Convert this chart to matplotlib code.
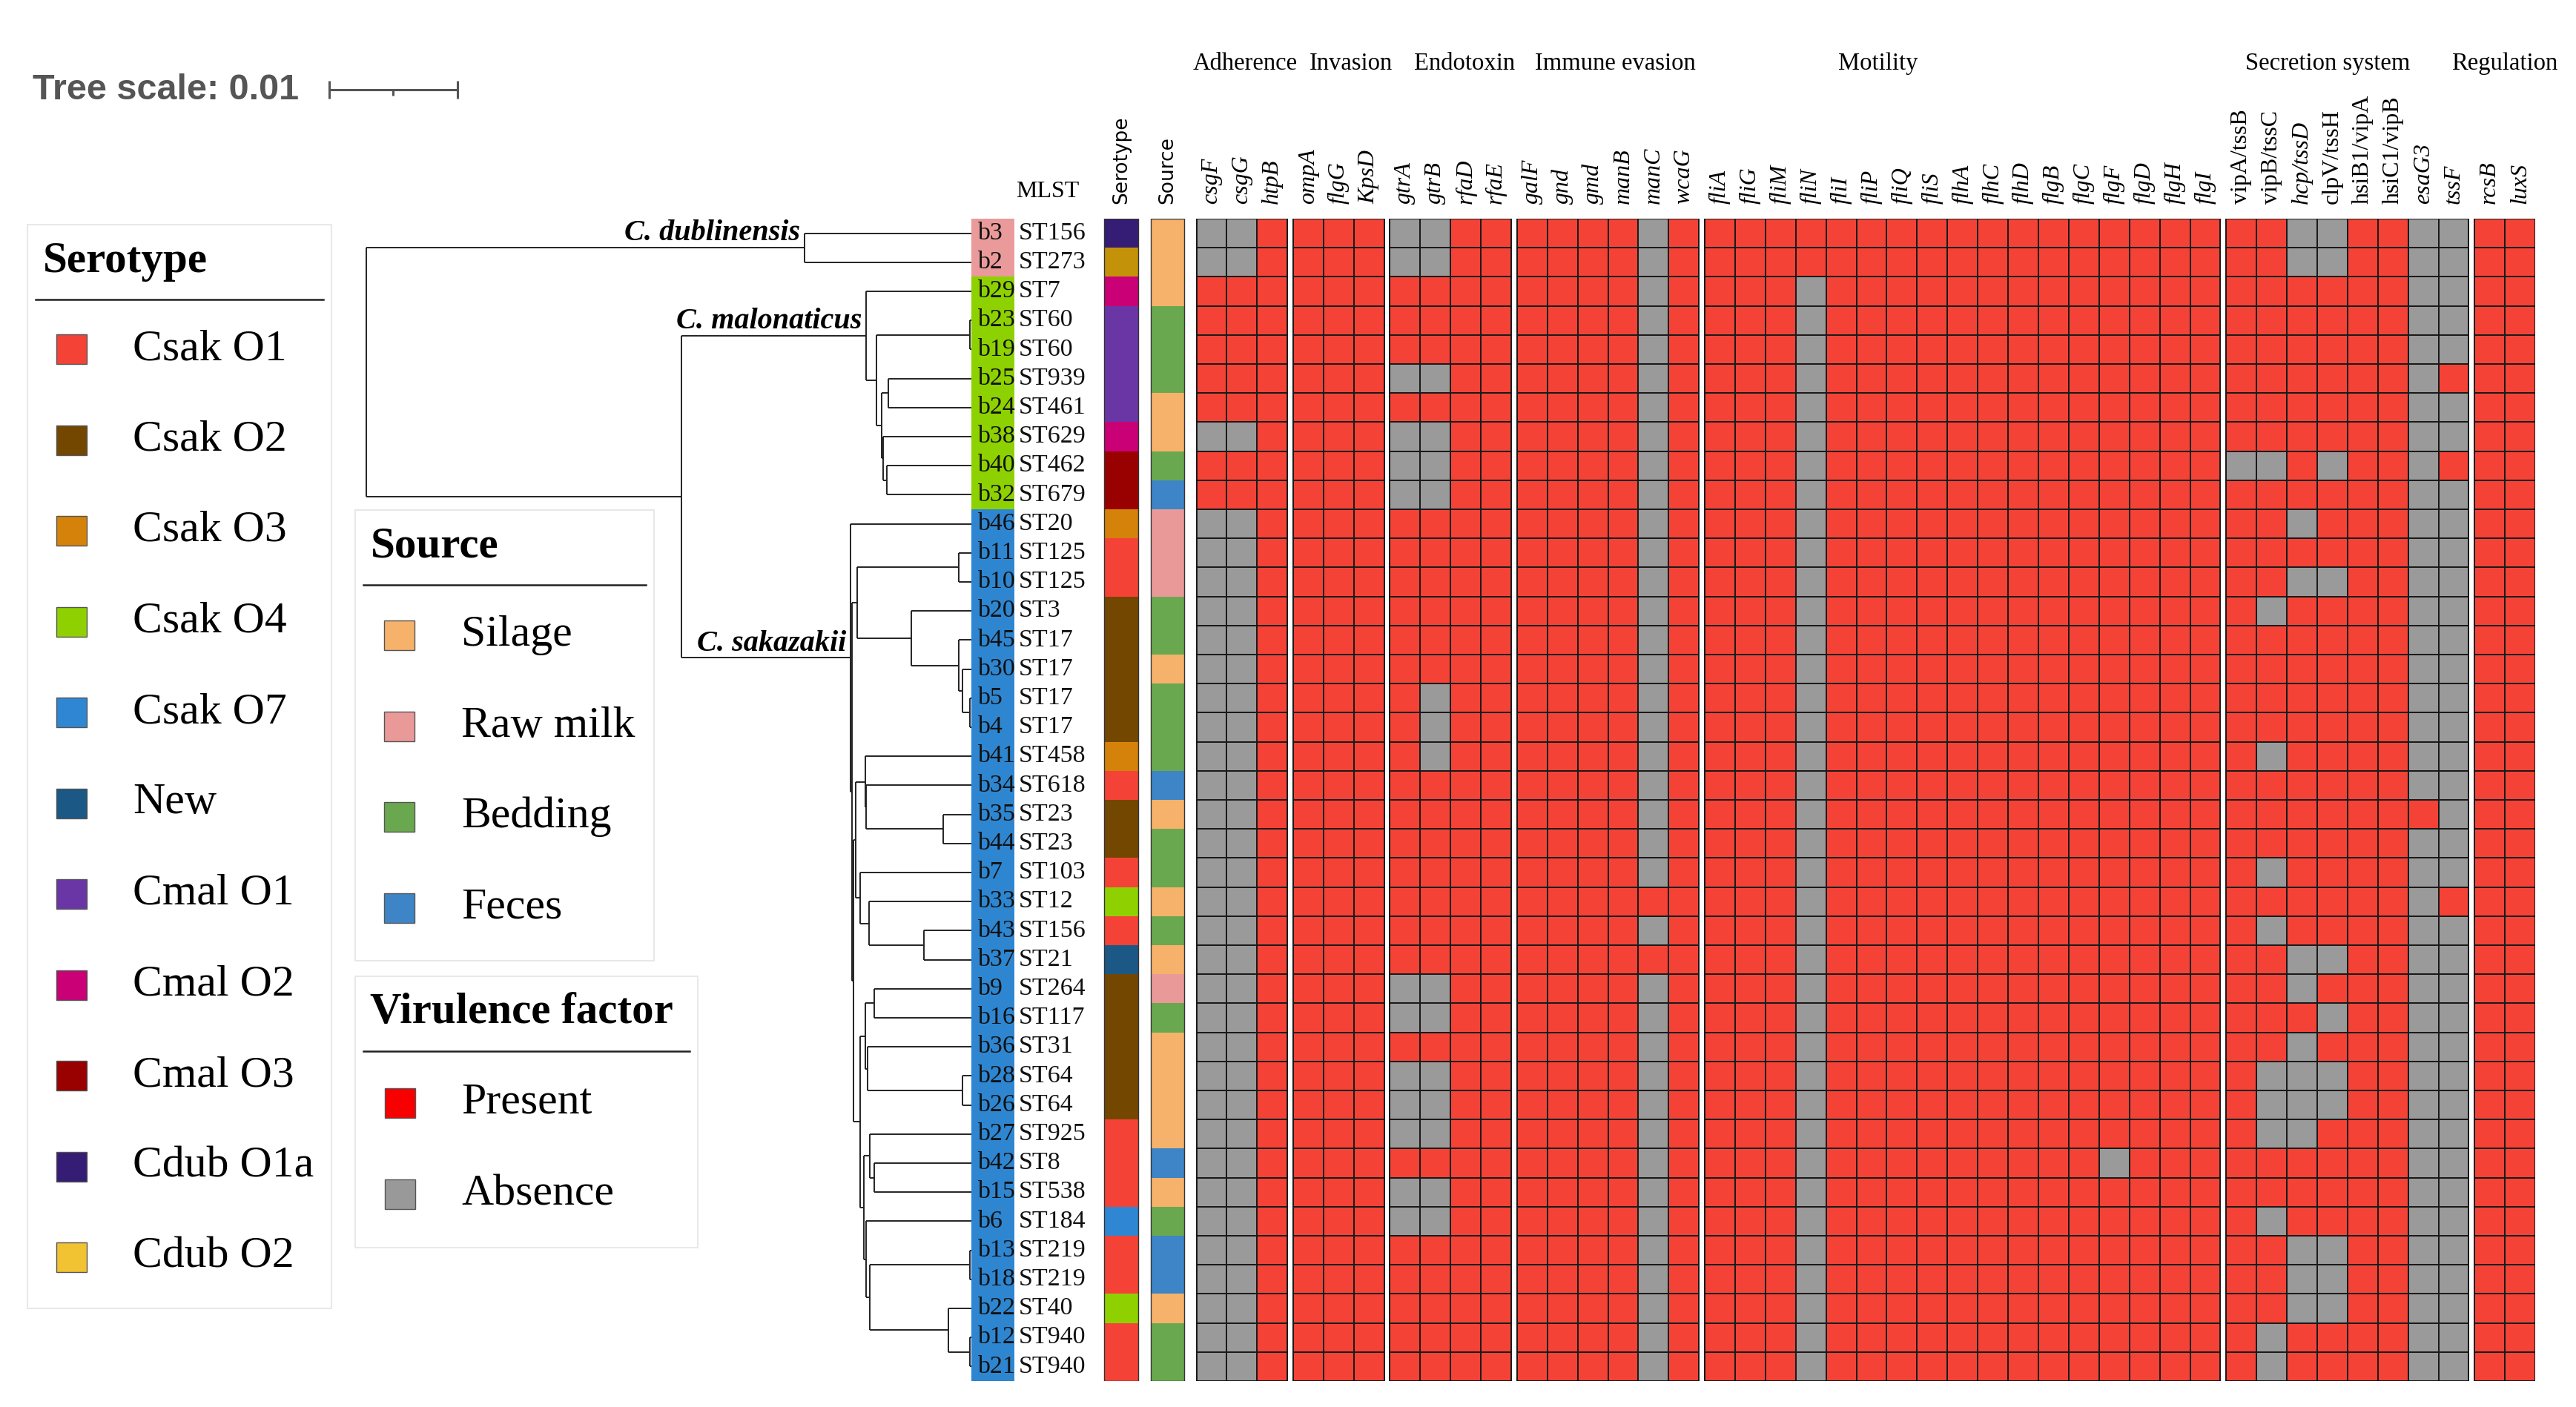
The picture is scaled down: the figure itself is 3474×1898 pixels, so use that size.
import matplotlib
matplotlib.use("Agg")
import numpy as np
import matplotlib.pyplot as plt
from matplotlib.colors import ListedColormap
from matplotlib.patches import Rectangle

W, H = 3474, 1898

# ---- data -------------------------------------------------------------
isolates = ['b3', 'b2', 'b29', 'b23', 'b19', 'b25', 'b24', 'b38', 'b40', 'b32',
            'b46', 'b11', 'b10', 'b20', 'b45', 'b30', 'b5', 'b4', 'b41', 'b34',
            'b35', 'b44', 'b7', 'b33', 'b43', 'b37', 'b9', 'b16', 'b36', 'b28',
            'b26', 'b27', 'b42', 'b15', 'b6', 'b13', 'b18', 'b22', 'b12', 'b21']
mlst = ['ST156', 'ST273', 'ST7', 'ST60', 'ST60', 'ST939', 'ST461', 'ST629', 'ST462', 'ST679',
        'ST20', 'ST125', 'ST125', 'ST3', 'ST17', 'ST17', 'ST17', 'ST17', 'ST458', 'ST618',
        'ST23', 'ST23', 'ST103', 'ST12', 'ST156', 'ST21', 'ST264', 'ST117', 'ST31', 'ST64',
        'ST64', 'ST925', 'ST8', 'ST538', 'ST184', 'ST219', 'ST219', 'ST40', 'ST940', 'ST940']
species = ['Cdub'] * 2 + ['Cmal'] * 8 + ['Csak'] * 30
serotype = ['Cdub O1a', 'Cdub O2', 'Cmal O2', 'Cmal O1', 'Cmal O1', 'Cmal O1', 'Cmal O1', 'Cmal O2',
            'Cmal O3', 'Cmal O3', 'Csak O3', 'Csak O1', 'Csak O1', 'Csak O2', 'Csak O2', 'Csak O2',
            'Csak O2', 'Csak O2', 'Csak O3', 'Csak O1', 'Csak O2', 'Csak O2', 'Csak O1', 'Csak O4',
            'Csak O1', 'New', 'Csak O2', 'Csak O2', 'Csak O2', 'Csak O2', 'Csak O2', 'Csak O1',
            'Csak O1', 'Csak O1', 'Csak O7', 'Csak O1', 'Csak O1', 'Csak O4', 'Csak O1', 'Csak O1']
source = ['Silage', 'Silage', 'Silage', 'Bedding', 'Bedding', 'Bedding', 'Silage', 'Silage',
          'Bedding', 'Feces', 'Raw milk', 'Raw milk', 'Raw milk', 'Bedding', 'Bedding', 'Silage',
          'Bedding', 'Bedding', 'Bedding', 'Feces', 'Silage', 'Bedding', 'Bedding', 'Silage',
          'Bedding', 'Silage', 'Raw milk', 'Bedding', 'Silage', 'Silage', 'Silage', 'Silage',
          'Feces', 'Silage', 'Bedding', 'Feces', 'Feces', 'Silage', 'Bedding', 'Bedding']

group_names = ['Adherence', 'Invasion', 'Endotoxin', 'Immune evasion', 'Motility',
               'Secretion system', 'Regulation']
genes = [['csgF', 'csgG', 'htpB'],
         ['ompA', 'flgG', 'KpsD'],
         ['gtrA', 'gtrB', 'rfaD', 'rfaE'],
         ['galF', 'gnd', 'gmd', 'manB', 'manC', 'wcaG'],
         ['fliA', 'fliG', 'fliM', 'fliN', 'fliI', 'fliP', 'fliQ', 'fliS', 'flhA', 'flhC',
          'flhD', 'flgB', 'flgC', 'flgF', 'flgD', 'flgH', 'flgI'],
         ['vipA/tssB', 'vipB/tssC', 'hcp/tssD', 'clpV/tssH', 'hsiB1/vipA', 'hsiC1/vipB',
          'esaG3', 'tssF'],
         ['rcsB', 'luxS']]
upright_genes = ['vipA/tssB', 'vipB/tssC', 'clpV/tssH', 'hsiB1/vipA', 'hsiC1/vipB']

# 1 = present, 0 = absent; one block per gene group
presence = [
    '001 111 0011 111101 11111111111111111 11001100 11',
    '001 111 0011 111101 11111111111111111 11001100 11',
    '111 111 1111 111101 11101111111111111 11111100 11',
    '111 111 1111 111101 11101111111111111 11111100 11',
    '111 111 1111 111101 11101111111111111 11111100 11',
    '111 111 0011 111101 11101111111111111 11111101 11',
    '111 111 1111 111101 11101111111111111 11111100 11',
    '001 111 0011 111101 11101111111111111 11111100 11',
    '111 111 0011 111101 11101111111111111 00101101 11',
    '111 111 0011 111101 11101111111111111 11111100 11',
    '001 111 1111 111101 11101111111111111 11011100 11',
    '001 111 1111 111101 11101111111111111 11111100 11',
    '001 111 1111 111101 11101111111111111 11001100 11',
    '001 111 1111 111101 11101111111111111 10111100 11',
    '001 111 1111 111101 11101111111111111 11111100 11',
    '001 111 1111 111101 11101111111111111 11111100 11',
    '001 111 1011 111101 11101111111111111 11111100 11',
    '001 111 1011 111101 11101111111111111 11111100 11',
    '001 111 1011 111101 11101111111111111 10111100 11',
    '001 111 1111 111101 11101111111111111 11111100 11',
    '001 111 1111 111101 11101111111111111 11111110 11',
    '001 111 1111 111101 11101111111111111 11111100 11',
    '001 111 1111 111101 11101111111111111 10111100 11',
    '001 111 1111 111111 11101111111111111 11111101 11',
    '001 111 1111 111101 11101111111111111 10111100 11',
    '001 111 1111 111111 11101111111111111 11001100 11',
    '001 111 0011 111101 11101111111111111 11011100 11',
    '001 111 0011 111101 11101111111111111 11101100 11',
    '001 111 1111 111101 11101111111111111 11011100 11',
    '001 111 0011 111101 11101111111111111 10001100 11',
    '001 111 0011 111101 11101111111111111 10001100 11',
    '001 111 0011 111101 11101111111111111 10011100 11',
    '001 111 1111 111101 11101111111110111 11111100 11',
    '001 111 0011 111101 11101111111111111 11111100 11',
    '001 111 0011 111101 11101111111111111 10111100 11',
    '001 111 1111 111101 11101111111111111 11001100 11',
    '001 111 1111 111101 11101111111111111 11001100 11',
    '001 111 1111 111101 11101111111111111 11001100 11',
    '001 111 1111 111101 11101111111111111 10111100 11',
    '001 111 1111 111101 11101111111111111 10111100 11',
]

# tree: (node depth in units of 0.001 substitutions/site, children[, clade label])
tree = (0.0, [
    (34.2, ['b3', 'b2'], 'C. dublinensis'),
    (24.6, [
        (39.0, ['b29',
                (39.8, [(47.1, ['b23', 'b19']),
                        (40.2, [(40.7, ['b25', 'b24']),
                                (40.3, ['b38', (40.6, ['b40', 'b32'])])])])],
         'C. malonaticus'),
        (37.8, ['b46',
                (37.9, [
                    (38.3, [(46.2, ['b11', 'b10']),
                            (42.5, ['b20', (46.2, ['b45', (46.5, ['b30', (47.1, ['b5', 'b4'])])])])]),
                    (38.0, [
                        (38.2, [(38.9, ['b41', (39.0, ['b34', (45.0, ['b35', 'b44'])])]),
                                (38.5, ['b7', (39.2, ['b33', (43.5, ['b43', 'b37'])])])]),
                        (38.5, [(38.9, [(39.6, ['b9', 'b16']),
                                        (39.1, ['b36', (46.5, ['b28', 'b26'])])]),
                                (38.8, [(39.3, ['b27', (39.6, ['b42', 'b15'])]),
                                        (39.0, ['b6', (39.3, [(47.1, ['b13', 'b18']),
                                                              (45.4, ['b22', (47.1, ['b12', 'b21'])])])])])]),
                    ]),
                ])],
         'C. sakazakii'),
    ]),
])
tip_depth = 47.2
tree_unit = 0.001
tree_scale = 0.01

serotype_names = ['Csak O1', 'Csak O2', 'Csak O3', 'Csak O4', 'Csak O7', 'New',
                  'Cmal O1', 'Cmal O2', 'Cmal O3', 'Cdub O1a', 'Cdub O2']
serotype_colors = ['#F44336', '#744700', '#D4820A', '#8FD100', '#2F86D2', '#1B5886',
                   '#6A36A6', '#C90076', '#990000', '#351C75', '#F1C232']
strip_serotype_colors = serotype_colors[:-1] + ['#C49208']
source_names = ['Silage', 'Raw milk', 'Bedding', 'Feces']
source_colors = ['#F6B26B', '#EA9999', '#6AA84F', '#3D85C6']
species_names = ['Cdub', 'Cmal', 'Csak']
species_colors = ['#EA9A9A', '#8ED100', '#2E86D1']
vf_names = ['Present', 'Absence']
vf_legend_colors = ['#F80000', '#999999']
present_color = '#F44336'
absent_color = '#9A9A9A'

# ---- figure -------------------------------------------------------------
plt.rcParams['font.family'] = ['Liberation Serif', 'DejaVu Serif']
fig = plt.figure(figsize=(W / 100, H / 100), dpi=100)
fig.patch.set_facecolor('white')

top_px, bot_px = 295, 1863
n = len(isolates)


def rect(x0, x1):
    return [x0 / W, 1 - bot_px / H, (x1 - x0) / W, (bot_px - top_px) / H]


# overlay for legends (pixel coordinates)
ov = fig.add_axes([0, 0, 1, 1], zorder=0)
ov.set_xlim(0, W)
ov.set_ylim(H, 0)
ov.axis('off')

tree_ax = fig.add_axes(rect(494, 1310), zorder=2)
tree_ax.set_xlim(0, tip_depth)
tree_ax.set_ylim(n, 0)
tree_ax.axis('off')

heat_ax = fig.add_axes(rect(1310, 3419), zorder=2)
heat_ax.set_xlim(-7.42, 44.14)
heat_ax.set_ylim(n, 0)
heat_ax.axis('off')

# ---- tree ---------------------------------------------------------------
row_of = {name: i for i, name in enumerate(isolates)}
line_kw = dict(color='#222222', lw=1.4, solid_capstyle='butt', clip_on=False)


def draw(node, parent_x):
    if isinstance(node, str):
        y = row_of[node] + 0.5
        tree_ax.plot([parent_x, tip_depth], [y, y], **line_kw)
        return y
    depth, kids = node[0], node[1]
    ys = [draw(k, depth) for k in kids]
    y = (ys[0] + ys[-1]) / 2
    tree_ax.plot([depth, depth], [ys[0], ys[-1]], **line_kw)
    if parent_x is not None:
        tree_ax.plot([parent_x, depth], [y, y], **line_kw)
    if len(node) > 2:
        tree_ax.text(depth - 0.35, y - 0.25, node[2], ha='right', va='baseline',
                     fontsize=29, fontstyle='italic', fontweight='bold', clip_on=False)
    return y


draw(tree, None)

# tree scale bar
bar_y = -4.44
bx0 = -2.9
bx1 = bx0 + tree_scale / tree_unit
sb = dict(color='#555555', lw=2.2, clip_on=False, solid_capstyle='butt')
tree_ax.plot([bx0, bx1], [bar_y, bar_y], **sb)
tree_ax.plot([bx0, bx0], [bar_y - 0.3, bar_y + 0.3], **sb)
tree_ax.plot([bx1, bx1], [bar_y - 0.3, bar_y + 0.3], **sb)
tree_ax.plot([(bx0 + bx1) / 2] * 2, [bar_y, bar_y + 0.2], **sb)
ov.text(44, 121, 'Tree scale: 0.01', fontsize=35, fontweight='bold', color='#555555',
        family=['Liberation Sans', 'DejaVu Sans'], ha='left', va='center')

# ---- label strip, serotype, source ----------------------------------------
Y = np.arange(n + 1)
sp_codes = np.array([species_names.index(s) for s in species])[:, None]
heat_ax.pcolormesh([-7.42, -6.0], Y, sp_codes, cmap=ListedColormap(species_colors),
                   vmin=-0.5, vmax=len(species_names) - 0.5)
st_codes = np.array([serotype_names.index(s) for s in serotype])[:, None]
heat_ax.pcolormesh([-3.05, -1.92], Y, st_codes, cmap=ListedColormap(strip_serotype_colors),
                   vmin=-0.5, vmax=len(serotype_names) - 0.5)
src_codes = np.array([source_names.index(s) for s in source])[:, None]
heat_ax.pcolormesh([-1.51, -0.41], Y, src_codes, cmap=ListedColormap(source_colors),
                   vmin=-0.5, vmax=len(source_names) - 0.5)
for x0, x1 in [(-3.05, -1.92), (-1.51, -0.41)]:
    heat_ax.add_patch(Rectangle((x0, 0), x1 - x0, n, fill=False, ec='#333333', lw=1.0))

for i in range(n):
    heat_ax.text(-7.22, i + 0.5, isolates[i], fontsize=24.5, color='#111111',
                 ha='left', va='center')
    heat_ax.text(-5.87, i + 0.5, mlst[i], fontsize=24.5, color='#111111',
                 ha='left', va='center')

heat_ax.text(-5.96, -0.94, 'MLST', fontsize=23, ha='left', va='center')
hdr = dict(rotation=90, ha='center', va='bottom', fontsize=19,
           family=['DejaVu Sans'])
heat_ax.text(-2.48, -0.5, 'Serotype', **hdr)
heat_ax.text(-0.96, -0.5, 'Source', **hdr)

# ---- heatmap ------------------------------------------------------------
mat = np.array([[int(c) for c in row.replace(' ', '')] for row in presence])
gap = 0.19
title_shift = [0.1, 0.4, 0.45, 0.23, -2.78, -0.64, 0.0]
start = 0.0
col = 0
for g, names in enumerate(genes):
    k = len(names)
    sub = mat[:, col:col + k]
    X = start + np.arange(k + 1)
    heat_ax.pcolormesh(X, Y, sub, cmap=ListedColormap([absent_color, present_color]),
                       vmin=0, vmax=1, edgecolors='#1A1A1A', linewidth=1.3)
    for j, gname in enumerate(names):
        heat_ax.text(start + j + 0.5, -0.5, gname, rotation=90, ha='center', va='bottom',
                     fontsize=23,
                     fontstyle='normal' if gname in upright_genes else 'italic')
    heat_ax.text(start + k / 2 + title_shift[g], -5.35, group_names[g], fontsize=23.5,
                 ha='center', va='center')
    col += k
    start += k + gap

# ---- legends --------------------------------------------------------------


def legend(box, title, title_xy, line_y, names, colors, sq_x, text_x, y0, step):
    x0, y0b, x1, y1b = box
    ov.add_patch(Rectangle((x0, y0b), x1 - x0, y1b - y0b, fill=False, ec='#E8E8E8', lw=1.5))
    ov.text(title_xy[0], title_xy[1], title, fontsize=42.5, fontweight='bold',
            ha='left', va='center')
    ov.plot([x0 + 11, x1 - 11], [line_y, line_y], color='#222222', lw=1.8)
    for k, (nm, c) in enumerate(zip(names, colors)):
        cy = y0 + k * step
        ov.add_patch(Rectangle((sq_x, cy - 20), 41, 40, fc=c, ec='#555555', lw=1.0))
        ov.text(text_x, cy, nm, fontsize=43, ha='left', va='center')


legend((37, 303, 447, 1765), 'Serotype', (58, 353), 404, serotype_names, serotype_colors,
       76, 179, 471, 122.5)
legend((479, 688, 882, 1296), 'Source', (500, 737), 789, source_names, source_colors,
       518, 622, 857, 122.5)
legend((479, 1317, 941, 1683), 'Virulence factor', (499, 1366), 1418, vf_names,
       vf_legend_colors, 519, 622, 1488, 123)

fig.savefig('out.png', dpi=100, facecolor='white')
